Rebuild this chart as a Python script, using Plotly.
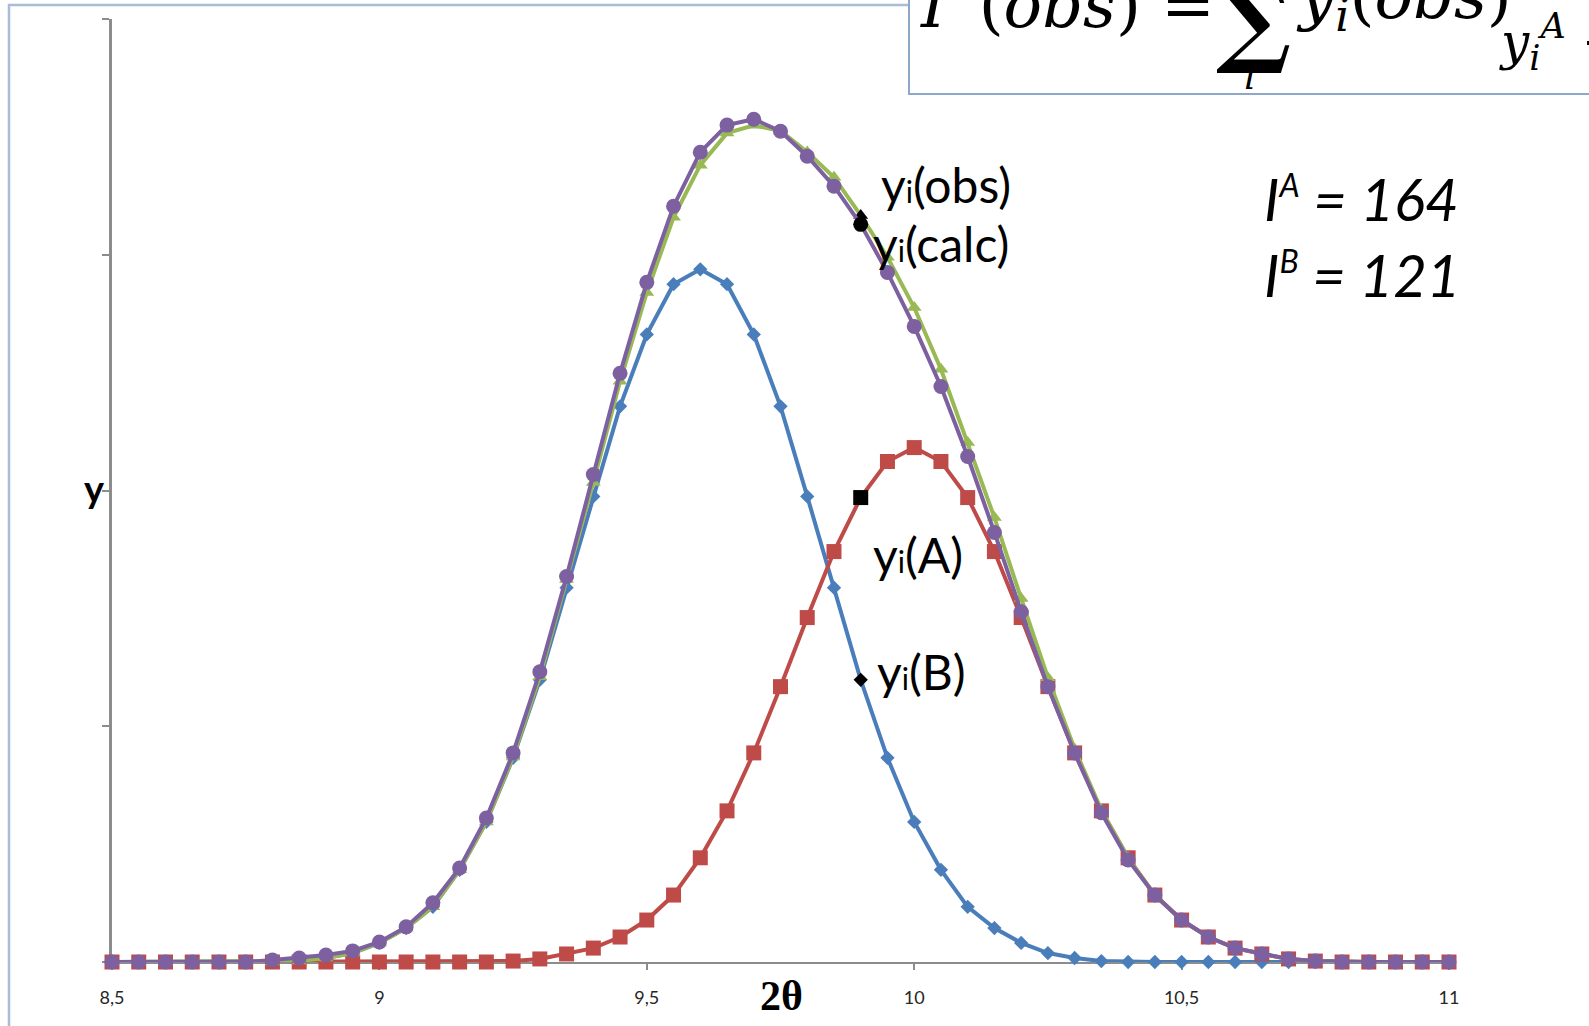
import plotly.graph_objects as go

# ---------------- data ----------------
TWO_THETA = [8.5, 8.55, 8.6, 8.65, 8.7, 8.75, 8.8, 8.85, 8.9, 8.95,
             9.0, 9.05, 9.1, 9.15, 9.2, 9.25, 9.3, 9.35, 9.4, 9.45,
             9.5, 9.55, 9.6, 9.65, 9.7, 9.75, 9.8, 9.85, 9.9, 9.95,
             10.0, 10.05, 10.1, 10.15, 10.2, 10.25, 10.3, 10.35, 10.4, 10.45,
             10.5, 10.55, 10.6, 10.65, 10.7, 10.75, 10.8, 10.85, 10.9, 10.95, 11.0]

Y_B = [0, 0, 0, 0, 0, 0, 0, 0.4, 1.7, 3.8,
       8.1, 14.4, 23.4, 39.1, 59.4, 86.6, 119.7, 158.8, 197.5, 235.7,
       266.2, 287.5, 293.8, 287.5, 266.2, 235.7, 197.5, 158.8, 119.7, 86.6,
       59.4, 39.1, 23.4, 14.4, 8.1, 3.8, 1.7, 0.4, 0, 0,
       0, 0, 0, 0, 0, 0, 0, 0, 0, 0, 0]

Y_A = [0, 0, 0, 0, 0, 0, 0, 0, 0, 0,
       0, 0, 0, 0, 0, 0.4, 1.3, 3.4, 5.9, 10.6,
       17.8, 28.4, 44.2, 64.1, 88.7, 116.8, 146.1, 174.1, 197.0, 212.3,
       218.2, 212.3, 197.0, 174.1, 146.1, 116.8, 88.7, 64.1, 44.2, 28.4,
       17.8, 10.6, 5.9, 3.4, 1.3, 0.4, 0, 0, 0, 0, 0]

Y_CALC = [0, 0, 0, 0, 0, 0, 0, 0.4, 1.7, 3.8,
          8.1, 14.4, 23.4, 39.1, 59.4, 87.0, 121.0, 162.2, 203.4, 246.3,
          284.0, 315.9, 338.0, 351.6, 354.9, 352.5, 343.6, 332.9, 316.7, 298.9,
          277.6, 251.4, 220.4, 188.5, 154.2, 120.6, 90.4, 64.5, 44.2, 28.4,
          17.8, 10.6, 5.9, 3.4, 1.3, 0.4, 0, 0, 0, 0, 0]

Y_OBS = [0, 0, 0, 0, 0, 0, 0.8, 1.7, 3.0, 4.7,
         8.5, 14.9, 25.1, 39.9, 61.1, 88.7, 123.1, 163.5, 206.8, 249.7,
         288.3, 320.6, 343.5, 355.0, 357.5, 352.4, 341.8, 329.1, 312.9, 292.5,
         269.6, 244.1, 214.4, 182.2, 148.6, 116.8, 88.7, 63.3, 43.3, 28.4,
         17.8, 10.6, 5.9, 3.4, 1.3, 0.4, 0, 0, 0, 0, 0]

X_TICK_VALUES = [8.5, 9.0, 9.5, 10.0, 10.5, 11.0]
X_TICK_LABELS = ["8,5", "9", "9,5", "10", "10,5", "11"]
Y_TICK_VALUES = [0, 100, 200, 300, 400]
HIGHLIGHT = 28          # index of the highlighted point (2θ = 9.9)
I_A = 164
I_B = 121

# ---------------- layout geometry ----------------
W, H = 1589, 1026
PL, PR, PT, PB = 112, 1449, 19, 962   # plot-area pixel edges


def px(x):
    return (x - PL) / (PR - PL)


def py(y):
    return (PB - y) / (PB - PT)


def point_colors(c):
    cs = [c] * len(TWO_THETA)
    cs[HIGHLIGHT] = "black"
    return cs


fig = go.Figure()
series = [
    ("B", Y_B, "#4A7EBB", "diamond", 11),
    ("A", Y_A, "#BE4B48", "square", 15),
    ("calc", Y_CALC, "#98B954", "triangle-up", 13),
    ("obs", Y_OBS, "#7D60A0", "circle", 15),
]
for name, ys, c, sym, size in series:
    fig.add_trace(go.Scatter(
        x=TWO_THETA, y=ys, mode="lines+markers", name=name,
        line=dict(color=c, width=4),
        marker=dict(symbol=sym, size=size, color=point_colors(c), line=dict(width=0)),
        showlegend=False, cliponaxis=False, hoverinfo="x+y+name"))

LAB_FONT = dict(family="Lato", size=48, color="black")


def lab(t):
    return t.replace("yi", 'y<span style="font-size:30px">i</span>')


def intensity(letter, value):
    return (f'<i>I<sup><span style="font-size:32px">{letter}</span></sup> = {value}</i>')


xh = TWO_THETA[HIGHLIGHT]
annotations = [
    dict(x=xh, y=Y_OBS[HIGHLIGHT], text=lab("yi(obs)"), xanchor="left", yanchor="middle",
         xshift=18, yshift=40, showarrow=False, font=LAB_FONT),
    dict(x=xh, y=Y_CALC[HIGHLIGHT], text=lab("yi(calc)"), xanchor="left", yanchor="middle",
         xshift=10, yshift=-28, showarrow=False, font=LAB_FONT),
    dict(x=xh, y=Y_A[HIGHLIGHT], text=lab("yi(A)"), xanchor="left", yanchor="middle",
         xshift=10, yshift=-57, showarrow=False, font=LAB_FONT),
    dict(x=xh, y=Y_B[HIGHLIGHT], text=lab("yi(B)"), xanchor="left", yanchor="middle",
         xshift=14, yshift=8, showarrow=False, font=LAB_FONT),
    # intensities
    dict(xref="paper", yref="paper", x=px(1262), y=py(198), xanchor="left", yanchor="middle",
         text=intensity("A", I_A), showarrow=False,
         font=dict(family="Lato", size=58, color="black")),
    dict(xref="paper", yref="paper", x=px(1262), y=py(274), xanchor="left", yanchor="middle",
         text=intensity("B", I_B), showarrow=False,
         font=dict(family="Lato", size=58, color="black")),
    # axis titles
    dict(xref="paper", yref="paper", x=px(94), y=py(488), xanchor="center", yanchor="middle",
         text="<b>y</b>", showarrow=False, font=dict(family="Lato", size=38, color="black")),
    dict(xref="paper", yref="paper", x=px(781), y=py(996), xanchor="center", yanchor="middle",
         text="<b>2θ</b>", showarrow=False, font=dict(family="Liberation Serif", size=42, color="black")),
]

# formula in the box at top right (partially cut by the top edge)
FF = "DejaVu Serif"
annotations += [
    dict(xref="paper", yref="paper", x=px(918), y=py(44), xanchor="left", yanchor="bottom",
         text="<i>I<sup>A</sup></i>(<i>obs</i>) =", showarrow=False,
         font=dict(family=FF, size=64, color="black")),
    dict(xref="paper", yref="paper", x=px(1214), y=py(80), xanchor="left", yanchor="bottom",
         text="<b>∑</b>", showarrow=False, font=dict(family=FF, size=100, color="black")),
    dict(xref="paper", yref="paper", x=px(1250), y=py(76), xanchor="center", yanchor="middle",
         text="<i>i</i>", showarrow=False, font=dict(family=FF, size=36, color="black")),
    dict(xref="paper", yref="paper", x=px(1294), y=py(44), xanchor="left", yanchor="bottom",
         text="<i>y<sub>i</sub></i>(<i>obs</i>)", showarrow=False,
         font=dict(family=FF, size=64, color="black")),
    dict(xref="paper", yref="paper", x=px(1497), y=py(80), xanchor="left", yanchor="bottom",
         text="<i>y<sub>i</sub><sup>A</sup></i> +", showarrow=False,
         font=dict(family=FF, size=50, color="black")),
]

shapes = [
    # outer chart frame
    dict(type="rect", xref="paper", yref="paper", x0=px(9), x1=px(1700), y0=py(5), y1=py(1100),
         line=dict(color="#A9BDD6", width=2.5), fillcolor="rgba(0,0,0,0)", layer="below"),
    # formula box
    dict(type="rect", xref="paper", yref="paper", x0=px(909), x1=px(1700), y0=py(-30), y1=py(94),
         line=dict(color="#8FA8C8", width=2), fillcolor="white", layer="below"),
]

fig.update_layout(
    width=W, height=H, autosize=False,
    margin=dict(l=PL, r=W - PR, t=PT, b=H - PB, pad=0),
    paper_bgcolor="white", plot_bgcolor="white",
    annotations=annotations, shapes=shapes,
    xaxis=dict(range=[8.5, 11], tickvals=X_TICK_VALUES, ticktext=X_TICK_LABELS,
               showgrid=False, zeroline=False, showline=True, linecolor="#8C8C8C", linewidth=2,
               ticks="outside", ticklen=6, tickwidth=1.5, tickcolor="#8C8C8C",
               ticklabelstandoff=12, layer="below traces",
               tickfont=dict(family="Lato", size=18, color="#262626")),
    yaxis=dict(range=[0, 400], tickvals=Y_TICK_VALUES, showticklabels=False,
               showgrid=False, zeroline=False, showline=True, linecolor="#8C8C8C", linewidth=2.5,
               ticks="outside", ticklen=7, tickwidth=2, tickcolor="#8C8C8C",
               layer="below traces"),
)

fig.write_html("out.html", config={"displayModeBar": False},
               post_script="document.body.style.margin='0';document.body.style.overflow='hidden';")
